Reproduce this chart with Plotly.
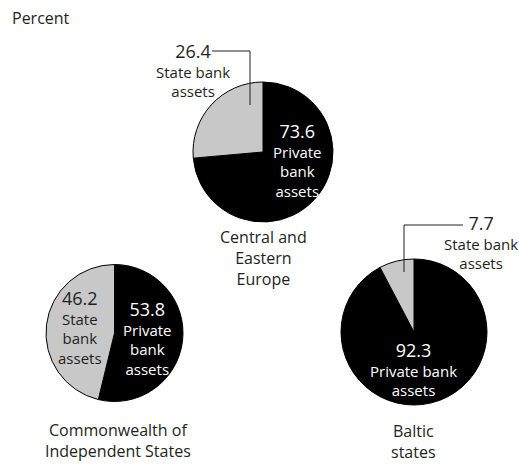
import plotly.graph_objects as go

W, H = 519, 464

regions = ["Central and<br>Eastern<br>Europe", "Commonwealth of<br>Independent States", "Baltic<br>states"]
slice_labels = ["Private bank assets", "State bank assets"]
private_vals = [73.6, 53.8, 92.3]
state_vals = [26.4, 46.2, 7.7]
colors = ["#000000", "#c8c8c8"]

# pie boxes in pixels (left, top, right, bottom)
boxes = [(193, 82, 333, 222), (46, 264, 183, 402), (341, 259, 487, 405)]

def px(x):
    return x / W

def py(y):
    return 1 - y / H

FONT = "'Open Sans', Lato, sans-serif"
NUM = 18
LAB = 15
REG = 16
TXT = "#231f20"

fig = go.Figure()
for i, (l, t, r, b) in enumerate(boxes):
    fig.add_trace(go.Pie(
        labels=slice_labels,
        values=[private_vals[i], state_vals[i]],
        sort=False, direction="clockwise", rotation=0,
        marker=dict(colors=colors, line=dict(color="#000000", width=1)),
        textinfo="none", hoverinfo="label+value",
        domain=dict(x=[px(l), px(r)], y=[py(b), py(t)]),
        showlegend=False,
    ))

ann = []

def add_text(x, y, text, size=LAB, color=TXT, anchor="center"):
    ann.append(dict(x=px(x), y=py(y), xref="paper", yref="paper", text=text,
                    showarrow=False, xanchor=anchor, yanchor="middle",
                    borderpad=0, align="center",
                    font=dict(family=FONT, size=size, color=color)))

def num(v):
    return f"<span style='font-size:{NUM}px'>{v}</span>"

add_text(11, 18, "Percent", 16, anchor="left")

# CEE
add_text(193, 70, num(state_vals[0]) + "<br>State bank<br>assets")
add_text(297, 160, num(private_vals[0]) + "<br>Private<br>bank<br>assets", color="#ffffff")
add_text(263, 258, regions[0], REG)

# CIS
add_text(80, 327, num(state_vals[1]) + "<br>State<br>bank<br>assets")
add_text(147, 338, num(private_vals[1]) + "<br>Private<br>bank<br>assets", color="#ffffff")
add_text(118, 440, regions[1], REG)

# Baltic
add_text(481, 242, num(state_vals[2]) + "<br>State bank<br>assets")
add_text(413, 369, num(private_vals[2]) + "<br>Private bank<br>assets", color="#ffffff")
add_text(413, 441, regions[2], REG)

shapes = []

def seg(x0, y0, x1, y1):
    shapes.append(dict(type="line", xref="paper", yref="paper",
                       x0=px(x0), y0=py(y0), x1=px(x1), y1=py(y1),
                       line=dict(color=TXT, width=1)))

seg(212, 51, 250, 51)
seg(250, 51, 250, 105)
seg(404, 225, 463, 225)
seg(404, 225, 404, 272)

fig.update_layout(
    width=W, height=H,
    margin=dict(l=0, r=0, t=0, b=0),
    paper_bgcolor="#ffffff", plot_bgcolor="#ffffff",
    annotations=ann, shapes=shapes,
)

fig.write_html("out.html", config={"displayModeBar": False},
               post_script="document.body.style.margin='0';document.body.style.overflow='hidden';")
